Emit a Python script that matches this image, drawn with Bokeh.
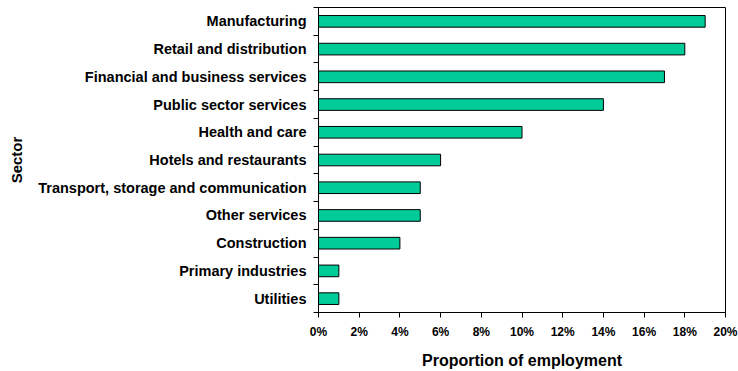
from bokeh.plotting import figure
from bokeh.models import FixedTicker, Range1d, ColumnDataSource
from bokeh.embed import file_html
from bokeh.resources import INLINE

sectors = ["Manufacturing", "Retail and distribution", "Financial and business services",
           "Public sector services", "Health and care", "Hotels and restaurants",
           "Transport, storage and communication", "Other services", "Construction",
           "Primary industries", "Utilities"]
values = [19, 18, 17, 14, 10, 6, 5, 5, 4, 1, 1]
x_ticks = [0, 2, 4, 6, 8, 10, 12, 14, 16, 18, 20]
x_tick_labels = [f"{t}%" for t in x_ticks]

n = len(sectors)
ypos = [n - i - 0.5 for i in range(n)]
src = ColumnDataSource(dict(y=ypos, v=values, name=sectors))

p = figure(width=738, height=371, output_backend="svg", toolbar_location=None,
           x_range=Range1d(0, 20), y_range=Range1d(0, n),
           min_border_left=318, min_border_right=13, min_border_top=7, min_border_bottom=56)

p.hbar(y="y", right="v", left=0, height=0.42, source=src,
       fill_color="#00CC99", line_color="black", line_width=1)

p.xgrid.visible = False
p.ygrid.visible = False
p.outline_line_color = "black"
p.outline_line_width = 1
p.outline_line_alpha = 1
p.background_fill_color = "white"
p.border_fill_color = "white"

font = "Liberation Sans"
xa = p.xaxis[0]
xa.ticker = FixedTicker(ticks=x_ticks, minor_ticks=[])
xa.major_label_overrides = {t: l for t, l in zip(x_ticks, x_tick_labels)}
xa.major_tick_in = 0
xa.major_tick_out = 5
xa.minor_tick_out = 0
xa.minor_tick_in = 0
xa.axis_line_color = "black"
xa.major_tick_line_color = "black"
xa.major_label_text_font = font
xa.major_label_text_font_style = "bold"
xa.major_label_text_font_size = "12px"
xa.major_label_text_color = "black"
xa.major_label_standoff = 7
xa.axis_label = "Proportion of employment"
xa.axis_label_text_font = font
xa.axis_label_text_font_style = "bold"
xa.axis_label_text_font_size = "16px"
xa.axis_label_text_color = "black"
xa.axis_label_standoff = 10

ya = p.yaxis[0]
ya.ticker = FixedTicker(ticks=ypos, minor_ticks=list(range(0, n + 1)))
ya.major_label_overrides = {y: s for y, s in zip(ypos, sectors)}
ya.major_tick_in = 0
ya.major_tick_out = 0
ya.minor_tick_in = 0
ya.minor_tick_out = 5
ya.minor_tick_line_color = "black"
ya.axis_line_color = "black"
ya.major_label_text_font = font
ya.major_label_text_font_style = "bold"
ya.major_label_text_font_size = "14.5px"
ya.major_label_text_color = "black"
ya.major_label_standoff = 7
ya.axis_label = "Sector"
ya.axis_label_text_font = font
ya.axis_label_text_font_style = "bold"
ya.axis_label_text_font_size = "15px"
ya.axis_label_text_color = "black"
ya.axis_label_standoff = 10

open("out.html", "w").write(file_html(p, INLINE))
